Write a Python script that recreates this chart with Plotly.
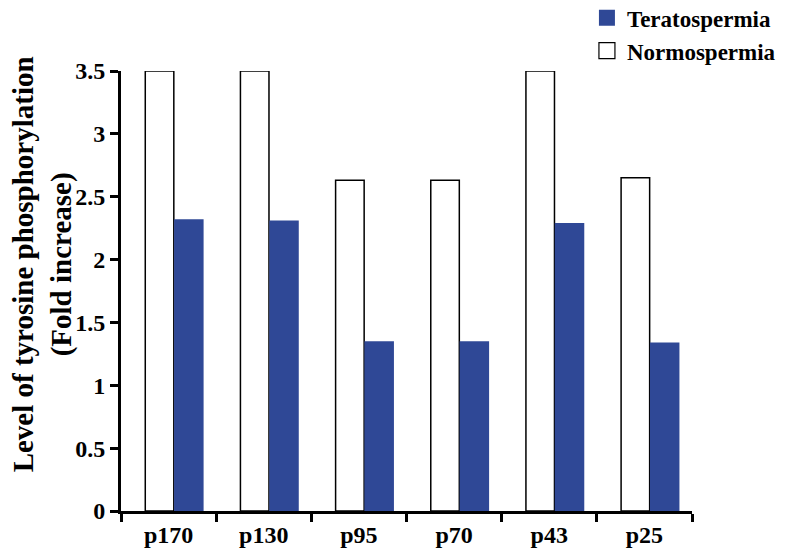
import plotly.graph_objects as go

categories = ["p170", "p130", "p95", "p70", "p43", "p25"]
normospermia = [3.5, 3.5, 2.63, 2.63, 3.5, 2.65]
teratospermia = [2.32, 2.31, 1.35, 1.35, 2.29, 1.34]
y_ticks = [0, 0.5, 1, 1.5, 2, 2.5, 3, 3.5]
y_tick_labels = ["0", "0.5", "1", "1.5", "2", "2.5", "3", "3.5"]
y_title = "Level of tyrosine phosphorylation<br>(Fold increase)"

font_family = "Liberation Serif"
blue = "#2F4896"

fig = go.Figure()
fig.add_trace(go.Bar(
    name="Normospermia", x=categories, y=normospermia,
    marker=dict(color="white", line=dict(color="black", width=1.5)),
    width=0.3, offset=-0.245, showlegend=False,
))
fig.add_trace(go.Bar(
    name="Teratospermia", x=categories, y=teratospermia,
    marker=dict(color=blue, line=dict(color=blue, width=0)),
    width=0.31, offset=0.058, showlegend=False,
))
# legend entries (square symbols like the reference)
fig.add_trace(go.Scatter(
    name="Normospermia", x=[None], y=[None], mode="markers",
    marker=dict(symbol="square", size=16, color="white", line=dict(color="black", width=1.2)),
))
fig.add_trace(go.Scatter(
    name="Teratospermia", x=[None], y=[None], mode="markers",
    marker=dict(symbol="square", size=16, color=blue, line=dict(width=0)),
))

fig.add_annotation(
    text=y_title, xref="paper", yref="paper", x=-0.138, y=0.561,
    xanchor="center", yanchor="middle", textangle=-90, showarrow=False,
    font=dict(size=29, family=font_family, color="black", weight="bold"),
)

fig.update_layout(
    width=786, height=548,
    margin=dict(l=113, r=102, t=63, b=45, autoexpand=False),
    paper_bgcolor="white", plot_bgcolor="white",
    font=dict(family=font_family, color="black"),
    barmode="group",
    showlegend=True,
    legend=dict(
        x=0.816, y=1.17, xanchor="left", yanchor="top",
        traceorder="reversed",
        font=dict(size=23, family=font_family, color="black", weight="bold"),
        bgcolor="rgba(0,0,0,0)", itemsizing="trace", itemwidth=30,
        tracegroupgap=0,
    ),
    xaxis=dict(
        showline=True, linecolor="black", linewidth=3,
        ticks="outside", tickson="boundaries", ticklen=8, tickwidth=3, tickcolor="black",
        tickfont=dict(size=24, family=font_family, color="black", weight="bold"),
        showgrid=False, zeroline=False, automargin=False,
    ),
    yaxis=dict(
        range=[0, 3.5], tickvals=y_ticks, ticktext=y_tick_labels,
        showline=True, linecolor="black", linewidth=3,
        ticks="outside", ticklen=8, tickwidth=3, tickcolor="black",
        tickfont=dict(size=24, family=font_family, color="black", weight="bold"),
        showgrid=False, zeroline=False, automargin=False,
    ),
)

fig.write_html("out.html")
